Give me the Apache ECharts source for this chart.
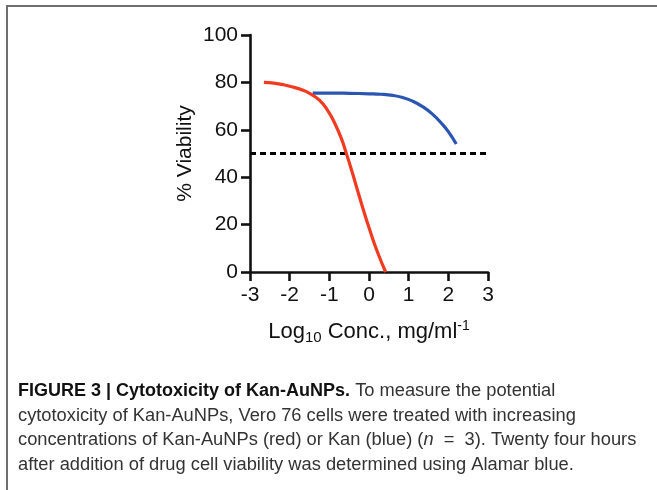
<!DOCTYPE html>
<html>
<head>
<meta charset="utf-8">
<script src="https://cdn.jsdelivr.net/npm/echarts@6/dist/echarts.min.js"></script>
<style>
html,body{margin:0;padding:0;background:#fff;}
#chart{width:657px;height:490px;}
</style>
</head>
<body>
<div id="chart"></div>
<script>
// Kan-AuNPs (red) dose-response curve
const redLogConc = [-2.65, -2.4, -2.15, -1.89, -1.7, -1.51, -1.25, -1.04, -0.87, -0.70, -0.58, -0.45, -0.32, -0.16, 0.01, 0.22, 0.42];
const redViability = [80.0, 79.7, 79.0, 77.9, 76.9, 75.5, 72.5, 68.1, 63.0, 56.5, 50.5, 43.6, 36.2, 27.2, 18.2, 8.1, 0];
// Kan (blue) dose-response curve
const blueLogConc = [-1.42, -1.0, -0.5, 0.0, 0.3, 0.6, 0.85, 1.1, 1.35, 1.6, 1.85, 2.0, 2.2];
const blueViability = [75.5, 75.5, 75.4, 75.2, 75.0, 74.5, 73.6, 72.1, 69.8, 66.6, 62.3, 59.2, 54.0];
// 50% reference line
const refLogConc = [-3, 3];
const refViability = [50, 50];
const xTicks = [-3, -2, -1, 0, 1, 2, 3];
const yTicks = [0, 20, 40, 60, 80, 100];

const captionLines = [
  '{b|FIGURE 3 | Cytotoxicity of Kan-AuNPs.}{r| To measure the potential}',
  '{r|cytotoxicity of Kan-AuNPs, Vero 76 cells were treated with increasing}',
  '{r|concentrations of Kan-AuNPs (red) or Kan (blue) (}{i|n}{r|  =  3). Twenty four hours}',
  '{r|after addition of drug cell viability was determined using Alamar blue.}'
];

const zip = (a, b) => a.map((v, i) => [v, b[i]]);
const FONT = 'Liberation Sans, Arial, Helvetica, sans-serif';

const chart = echarts.init(document.getElementById('chart'), null, {renderer: 'canvas'});
const axisLineStyle = {color: '#111', width: 2.6};
chart.setOption({
  animation: false,
  backgroundColor: '#fff',
  grid: {left: 250, right: 169, top: 35, bottom: 218, containLabel: false},
  xAxis: {
    type: 'value', min: xTicks[0], max: xTicks[xTicks.length - 1], interval: 1,
    axisLine: {show: true, onZero: false, lineStyle: axisLineStyle},
    axisTick: {show: true, inside: false, length: 9, lineStyle: axisLineStyle},
    splitLine: {show: false},
    axisLabel: {fontSize: 21, color: '#111', fontFamily: FONT, margin: 13},
    name: '{a|Log}{s|10}{a| Conc., mg/ml}{p|-1}',
    nameLocation: 'middle', nameGap: 46,
    nameTextStyle: {
      fontFamily: FONT, color: '#111',
      rich: {
        a: {fontSize: 22, fontFamily: FONT, color: '#111'},
        s: {fontSize: 15, fontFamily: FONT, color: '#111', padding: [12, 0, 0, 0]},
        p: {fontSize: 14, fontFamily: FONT, color: '#111', padding: [0, 0, 10, 0]}
      }
    }
  },
  yAxis: {
    type: 'value', min: yTicks[0], max: yTicks[yTicks.length - 1], interval: 20,
    axisLine: {show: true, onZero: false, lineStyle: axisLineStyle},
    axisTick: {show: true, inside: false, length: 9, lineStyle: axisLineStyle},
    splitLine: {show: false},
    axisLabel: {fontSize: 21, color: '#111', fontFamily: FONT, margin: 12},
    name: '% Viability', nameLocation: 'middle', nameGap: 54, nameRotate: 90,
    nameTextStyle: {fontSize: 21, fontFamily: FONT, color: '#111'}
  },
  series: [
    {
      type: 'line', name: 'ref', data: zip(refLogConc, refViability), symbol: 'none',
      lineStyle: {color: '#000', width: 3, type: [6, 4]}, z: 1
    },
    {
      type: 'line', name: 'Kan', data: zip(blueLogConc, blueViability), symbol: 'none',
      smooth: 0.5,
      lineStyle: {color: '#2b55b3', width: 3.2}, z: 2
    },
    {
      type: 'line', name: 'Kan-AuNPs', data: zip(redLogConc, redViability), symbol: 'none',
      smooth: 0.5,
      lineStyle: {color: '#f23a20', width: 3.2}, z: 3
    }
  ],
  graphic: [
    {
      type: 'polyline', silent: true,
      shape: {points: [[7, 490], [7, 6], [657, 6]]},
      style: {stroke: '#6e6e6e', lineWidth: 2, fill: null}
    },
    {
      type: 'text', left: 18, top: 379, silent: true,
      style: {
        text: captionLines.join('\n'),
        lineHeight: 24.5,
        rich: {
          b: {fontFamily: FONT, fontSize: 18, fontWeight: 'bold', fill: '#111', lineHeight: 24.5},
          r: {fontFamily: FONT, fontSize: 18.3, fill: '#333', lineHeight: 24.5},
          i: {fontFamily: FONT, fontSize: 18.3, fontStyle: 'italic', fill: '#333', lineHeight: 24.5}
        }
      }
    }
  ]
});
</script>
</body>
</html>
